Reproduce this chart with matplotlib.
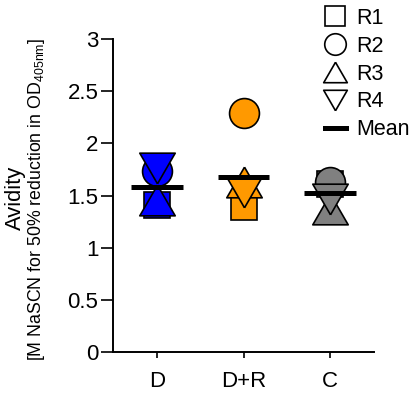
import matplotlib
matplotlib.use("Agg")
import matplotlib.pyplot as plt
from matplotlib.lines import Line2D
import numpy as np

plt.rcParams['font.family'] = ['Liberation Sans', 'DejaVu Sans']
plt.rcParams['mathtext.default'] = 'regular'

# ---- data ----
groups = ["D", "D+R", "C"]
colors = ["#0000FF", "#FF9900", "#808080"]
r1 = [1.405, 1.393, 1.615]   # squares
r2 = [1.735, 2.295, 1.630]   # circles
r3 = [1.457, 1.633, 1.370]   # up triangles
r4 = [1.764, 1.537, 1.470]   # down triangles
means = [1.585, 1.681, 1.520]
yticks = [0, 0.5, 1, 1.5, 2, 2.5, 3]
yticklabels = ["0", "0.5", "1", "1.5", "2", "2.5", "3"]
legend_labels = ["R1", "R2", "R3", "R4", "Mean"]

fig = plt.figure(figsize=(4.13, 3.94), dpi=100)
ax = fig.add_axes([113/413, 1-352/394, (374-113)/413, (352-39)/394])

tri_up = [(0, 0.865), (-1, -0.865), (1, -0.865), (0, 0.865)]
tri_dn = [(0, -0.865), (-1, 0.865), (1, 0.865), (0, -0.865)]

x = np.arange(len(groups))
ew = 1.2
for i in range(len(groups)):
    c = colors[i]
    ax.plot(x[i], r1[i], marker='s', ms=18.5, mfc=c, mec='black', mew=ew, ls='none', zorder=3)
    ax.plot(x[i], r2[i], marker='o', ms=21.5, mfc=c, mec='black', mew=ew, ls='none', zorder=4)
    ax.plot(x[i], r3[i], marker=tri_up, ms=25.5, mfc=c, mec='black', mew=ew, ls='none', zorder=5)
    ax.plot(x[i], r4[i], marker=tri_dn, ms=25.5, mfc=c, mec='black', mew=ew, ls='none', zorder=6)
ax.hlines(means, x - 0.30, x + 0.30, colors='black', linewidth=3.6, zorder=7)

ax.set_xlim(-0.513, 2.511)
ax.set_ylim(0, 3)
ax.set_xticks(x)
ax.set_xticklabels(groups, fontsize=16)
ax.set_yticks(yticks)
ax.set_yticklabels(yticklabels, fontsize=16)
for s in ['top', 'right']:
    ax.spines[s].set_visible(False)
for s in ['left', 'bottom']:
    ax.spines[s].set_linewidth(1.4)
ax.tick_params(axis='y', length=8.5, width=1.2, pad=2)
ax.tick_params(axis='x', length=4.5, width=1.2, pad=9)
ax.patch.set_alpha(0)

fig.text(20.7/413, 1-197.5/394, "Avidity", rotation=90, rotation_mode='anchor',
         fontsize=15.8, ha='center', va='baseline')
fig.text(41.5/413, 1-199/394, r"[M NaSCN for 50% reduction in OD$_{405nm}$]",
         rotation=90, rotation_mode='anchor', fontsize=12.8,
         ha='center', va='baseline')

handles = [
    Line2D([], [], marker='s', ms=14.5, mfc='white', mec='black', mew=1.2, ls='none'),
    Line2D([], [], marker='o', ms=15.5, mfc='white', mec='black', mew=1.2, ls='none'),
    Line2D([], [], marker=tri_up, ms=17, mfc='white', mec='black', mew=1.2, ls='none'),
    Line2D([], [], marker=tri_dn, ms=17, mfc='white', mec='black', mew=1.2, ls='none'),
    Line2D([], [], color='black', lw=3.6),
]
fig.legend(handles, legend_labels, loc='upper left',
           bbox_to_anchor=(324.7/413, 1-8/394), frameon=False, fontsize=15.5,
           handlelength=1.0, handletextpad=0.45, labelspacing=0.315,
           borderpad=0, borderaxespad=0)

fig.savefig("out.png", dpi=100)
